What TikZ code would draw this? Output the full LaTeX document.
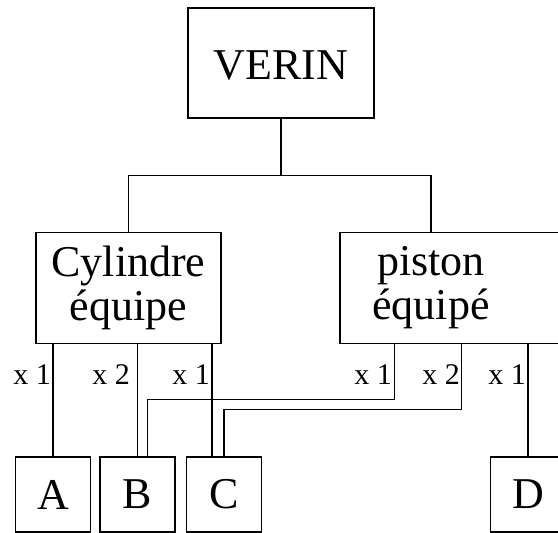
\documentclass[tikz,border=0pt]{standalone}
\usepackage{fontspec}
\setmainfont{Liberation Serif}
\usetikzlibrary{calc}
\tikzset{
  part/.style={draw, line width=1.2pt, inner sep=0pt, align=center,
    font=\fontsize{44}{44}\selectfont},
  leaf/.style={part, minimum width=75pt, minimum height=75pt},
  qty/.style={inner sep=0pt, anchor=base east, font=\fontsize{30}{30}\selectfont},
  link/.style={line width=1.2pt}
}
\begin{document}
\begin{tikzpicture}[x=1pt,y=-1pt]
  %%%%% START %%%%%
  \useasboundingbox (0,0) rectangle (558,533);
  \clip (0,0) rectangle (558,533);

  \node[part, minimum width=186pt, minimum height=110pt, text height=33pt, text depth=0pt] (verin) at (281,63) {VERIN};
  \node[part, minimum width=185pt, minimum height=111pt] (cyl) at (128.5,288) {Cylindre\\équipe};
  \node[part, minimum width=240pt, minimum height=111pt] (pist) at (460,288) {};
  \node[inner sep=0pt, align=center, font=\fontsize{44}{44}\selectfont] (pistlbl) at (431,288) {piston\\équipé};

  \node[leaf] (A) at (53,494.5) {A};
  \node[leaf] (B) at (137.5,494.5) {B};
  \node[leaf] (C) at (224,494.5) {C};
  \node[leaf] (D) at (528,494.5) {D};

  \draw[link] (verin.south) -- ++(0,57) coordinate (fork);
  \draw[link] (cyl.north) |- (fork) -| (pist.north -| pistlbl);

  \coordinate (cx) at ([xshift=-12pt]C.north);
  \coordinate (p1) at ([xshift=55pt]pist.south west);
  \coordinate (p2) at ([xshift=122pt]pist.south west);

  \draw[link] (A.north) -- (A.north |- cyl.south);
  \draw[link] (B.north) -- (B.north |- cyl.south);
  \draw[link] (cx) -- (cx |- cyl.south);
  \draw[link] ([xshift=10pt]B.north) -- ++(0,-57) -| (p1);
  \draw[link] (C.north) -- ++(0,-47) -| (p2);
  \draw[link] (D.north) -- (D.north |- pist.south);

  \node[qty] (qa) at (51,384) {x 1};
  \node[qty] (qb) at (130,384) {x 2};
  \node[qty] (qc) at (210,384) {x 1};
  \node[qty] (qd) at (392,384) {x 1};
  \node[qty] (qe) at (460,384) {x 2};
  \node[qty] (qf) at (526,384) {x 1};
  %%%%% END %%%%%
\end{tikzpicture}
\end{document}
